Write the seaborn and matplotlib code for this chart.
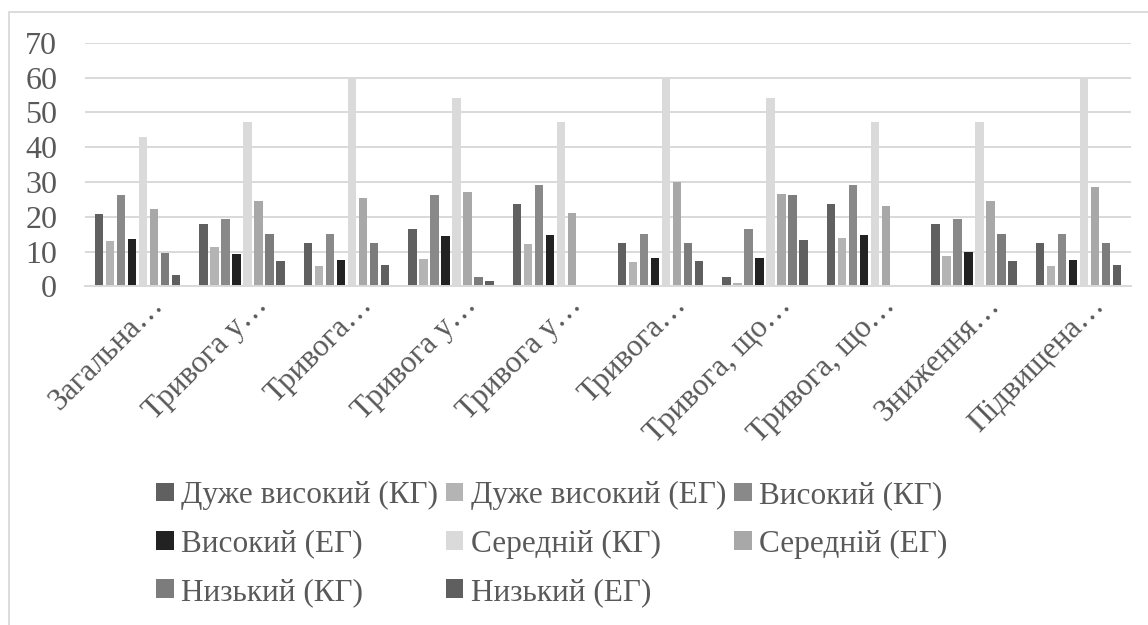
import matplotlib
matplotlib.use("Agg")
import matplotlib.pyplot as plt
import matplotlib.transforms as mtransforms
from matplotlib.patches import Rectangle, Patch
import numpy as np
import pandas as pd
import seaborn as sns

categories = [
    "Загальна…", "Тривога у…", "Тривога…", "Тривога у…", "Тривога у…",
    "Тривога…", "Тривога, що…", "Тривога, що…", "Зниження…", "Підвищена…",
]

series_names = [
    "Дуже високий (КГ)", "Дуже високий (ЕГ)", "Високий (КГ)", "Високий (ЕГ)",
    "Середній (КГ)", "Середній (ЕГ)", "Низький (КГ)", "Низький (ЕГ)",
]

very_high_kg = [20.7, 17.9, 12.4, 16.5, 23.6, 12.4, 2.6, 23.6, 17.9, 12.4]
very_high_eg = [13.0, 11.2, 5.8, 8.0, 12.3, 6.9, 1.0, 14.0, 8.9, 6.0]
high_kg = [26.2, 19.3, 15.1, 26.2, 29.0, 15.1, 16.5, 29.0, 19.3, 15.1]
high_eg = [13.6, 9.2, 7.5, 14.5, 14.9, 8.1, 8.3, 14.8, 9.8, 7.5]
medium_kg = [42.9, 47.1, 60.0, 54.0, 47.1, 60.0, 54.0, 47.1, 47.1, 60.0]
medium_eg = [22.2, 24.5, 25.5, 27.0, 21.2, 29.9, 26.7, 23.1, 24.5, 28.7]
low_kg = [9.6, 15.1, 12.4, 2.6, 0.0, 12.4, 26.2, 0.0, 15.1, 12.4]
low_eg = [3.3, 7.2, 6.1, 1.7, 0.0, 7.2, 13.3, 0.0, 7.2, 6.3]

y_ticks = [0, 10, 20, 30, 40, 50, 60, 70]

colors = ["#606060", "#b4b4b4", "#898989", "#222222",
          "#dadada", "#a8a8a8", "#7c7c7c", "#5f5f5f"]

series_values = [very_high_kg, very_high_eg, high_kg, high_eg,
                 medium_kg, medium_eg, low_kg, low_eg]

# Long-format table: one row per bar; positions keep duplicate labels apart
rows = []
for name, vals in zip(series_names, series_values):
    for i, v in enumerate(vals):
        rows.append({"pos": i, "series": name, "value": v})
df = pd.DataFrame(rows)

sns.set_theme(style="white")
plt.rcParams["font.family"] = ["Liberation Serif", "DejaVu Serif"]
text_color = "#595959"
grid_color = "#d9d9d9"

fig = plt.figure(figsize=(11.48, 6.25), dpi=100)
W, H = 1148, 625
ax = fig.add_axes([85 / W, 1 - 286.5 / H, (1131 - 85) / W, (286.5 - 42.7) / H])

sns.barplot(data=df, x="pos", y="value", hue="series", hue_order=series_names,
            palette=colors, width=0.842, gap=0.23, errorbar=None,
            legend=False, ax=ax, saturation=1, linewidth=0)

ax.set_ylim(0, 70)
ax.set_xlim(-0.5, len(categories) - 0.5)
ax.set_yticks(y_ticks)
ax.set_yticklabels([str(t) for t in y_ticks])
ax.set_xlabel("")
ax.set_ylabel("")
ax.set_axisbelow(True)
ax.yaxis.grid(True, color=grid_color, linewidth=1.4)
ax.xaxis.grid(False)
for side in ["top", "right", "left"]:
    ax.spines[side].set_visible(False)
ax.spines["bottom"].set_color(grid_color)
ax.spines["bottom"].set_linewidth(1.4)
ax.tick_params(axis="y", length=0, pad=20, labelsize=23, labelcolor=text_color)
ax.tick_params(axis="x", length=0, pad=0, labelsize=22.5, labelcolor=text_color)

ax.set_xticks(range(len(categories)))
ax.set_xticklabels(categories, rotation=45, ha="right", va="baseline",
                   rotation_mode="anchor")
shift = mtransforms.ScaledTranslation(27 / 100, -20 / 100, fig.dpi_scale_trans)
for lbl in ax.get_xticklabels():
    lbl.set_transform(lbl.get_transform() + shift)

# Legend laid out row by row in three columns
handles = [Patch(facecolor=c, edgecolor="none") for c in colors]
order = [0, 3, 6, 1, 4, 7, 2, 5]
leg = fig.legend([handles[i] for i in order], [series_names[i] for i in order],
                 ncol=3, loc="center", bbox_to_anchor=(552 / W, 1 - 544 / H),
                 frameon=False, fontsize=22.5, handlelength=0.55, handleheight=0.55,
                 handletextpad=0.25, columnspacing=0.25, labelspacing=0.62,
                 labelcolor=text_color)

# Chart frame
fig.patches.append(Rectangle((9 / W, -0.05), 1.1, 1 - 12 / H + 0.05,
                             transform=fig.transFigure, fill=False,
                             edgecolor=grid_color, linewidth=1.3))

fig.savefig("out.png", dpi=100, facecolor="white")
